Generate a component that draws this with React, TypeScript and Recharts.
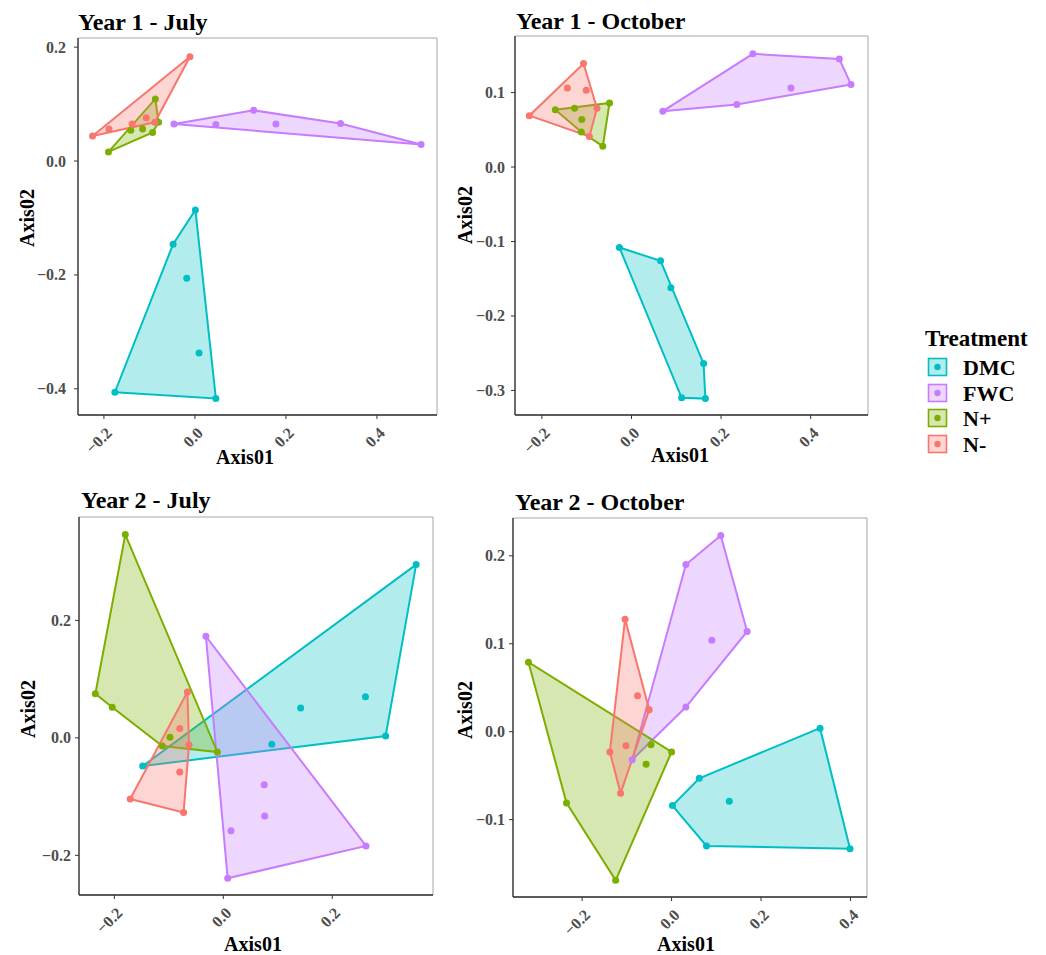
import React from 'react';
import { ScatterChart, Scatter, XAxis, YAxis, ReferenceArea } from 'recharts';

const TREATMENTS = ['DMC', 'FWC', 'N+', 'N-'];
const COLORS = ['#00BFC4', '#C77CFF', '#7CAE00', '#F8766D'];

// Year 1 - July
const y1JulDMC = [[0.001, -0.086], [-0.048, -0.146], [-0.018, -0.206], [0.009, -0.337], [-0.176, -0.406], [0.046, -0.417]];
const y1JulFWC = [[-0.046, 0.065], [0.046, 0.064], [0.129, 0.089], [0.178, 0.065], [0.320, 0.066], [0.497, 0.029]];
const y1JulNp = [[-0.190, 0.016], [-0.141, 0.054], [-0.115, 0.056], [-0.093, 0.050], [-0.087, 0.109], [-0.080, 0.068]];
const y1JulNm = [[-0.225, 0.044], [-0.189, 0.056], [-0.138, 0.065], [-0.107, 0.076], [-0.088, 0.068], [-0.011, 0.183]];

// Year 1 - October
const y1OctDMC = [[-0.027, -0.108], [0.065, -0.126], [0.088, -0.162], [0.161, -0.264], [0.112, -0.310], [0.165, -0.311]];
const y1OctFWC = [[0.070, 0.075], [0.235, 0.084], [0.271, 0.152], [0.356, 0.106], [0.464, 0.145], [0.490, 0.111]];
const y1OctNp = [[-0.170, 0.077], [-0.127, 0.079], [-0.111, 0.064], [-0.112, 0.047], [-0.064, 0.028], [-0.049, 0.086]];
const y1OctNm = [[-0.228, 0.069], [-0.143, 0.106], [-0.107, 0.139], [-0.101, 0.103], [-0.077, 0.079], [-0.094, 0.041]];

// Year 2 - July
const y2JulDMC = [[-0.148, -0.048], [0.089, -0.011], [0.142, 0.051], [0.261, 0.070], [0.298, 0.003], [0.354, 0.295]];
const y2JulFWC = [[-0.032, 0.173], [0.008, -0.239], [0.014, -0.158], [0.076, -0.133], [0.075, -0.080], [0.262, -0.184]];
const y2JulNp = [[-0.235, 0.075], [-0.204, 0.052], [-0.180, 0.346], [-0.112, -0.014], [-0.098, 0.001], [-0.011, -0.024]];
const y2JulNm = [[-0.171, -0.104], [-0.080, 0.016], [-0.080, -0.058], [-0.073, -0.127], [-0.066, 0.078], [-0.063, -0.012]];

// Year 2 - October
const y2OctDMC = [[0.002, -0.084], [0.062, -0.053], [0.078, -0.130], [0.129, -0.079], [0.332, 0.004], [0.399, -0.133]];
const y2OctFWC = [[-0.088, -0.032], [0.032, 0.028], [0.032, 0.190], [0.090, 0.104], [0.110, 0.223], [0.169, 0.114]];
const y2OctNp = [[-0.320, 0.079], [-0.235, -0.081], [-0.125, -0.169], [-0.057, -0.037], [-0.046, -0.015], [0.0, -0.023]];
const y2OctNm = [[-0.138, -0.023], [-0.114, -0.070], [-0.104, 0.128], [-0.102, -0.016], [-0.076, 0.041], [-0.050, 0.025]];

const y1JulXTicks = [-0.2, 0, 0.2, 0.4];
const y1JulYTicks = [-0.4, -0.2, 0, 0.2];
const y1OctXTicks = [-0.2, 0, 0.2, 0.4];
const y1OctYTicks = [-0.3, -0.2, -0.1, 0, 0.1];
const y2JulXTicks = [-0.2, 0, 0.2];
const y2JulYTicks = [-0.2, 0, 0.2];
const y2OctXTicks = [-0.2, 0, 0.2, 0.4];
const y2OctYTicks = [-0.1, 0, 0.1, 0.2];

const TITLES = ['Year 1 - July', 'Year 1 - October', 'Year 2 - July', 'Year 2 - October'];

const SERIF = '"Liberation Serif", "Times New Roman", serif';

type Pt = { x: number; y: number };

const toPts = (arr: number[][]): Pt[] => arr.map(([x, y]) => ({ x, y }));

function hull(points: Pt[]): Pt[] {
  const p = [...points].sort((a, b) => (a.x === b.x ? a.y - b.y : a.x - b.x));
  const cross = (o: Pt, a: Pt, b: Pt) => (a.x - o.x) * (b.y - o.y) - (a.y - o.y) * (b.x - o.x);
  const lower: Pt[] = [];
  for (const q of p) {
    while (lower.length >= 2 && cross(lower[lower.length - 2], lower[lower.length - 1], q) <= 0) lower.pop();
    lower.push(q);
  }
  const upper: Pt[] = [];
  for (let i = p.length - 1; i >= 0; i--) {
    const q = p[i];
    while (upper.length >= 2 && cross(upper[upper.length - 2], upper[upper.length - 1], q) <= 0) upper.pop();
    upper.push(q);
  }
  upper.pop();
  lower.pop();
  return lower.concat(upper);
}

const fmt = (v: number) => v.toFixed(1).replace('-', '\u2212');

const XTick = (props: any) => {
  const { x, y, payload } = props;
  const ax = x + 9;
  const ay = y + 13;
  return (
    <text x={ax} y={ay} transform={`rotate(-45 ${ax} ${ay})`} textAnchor="end" fontFamily={SERIF} fontSize={16} fontWeight={700} fill="#4d4d4d">
      {fmt(payload.value)}
    </text>
  );
};

const YTick = (props: any) => {
  const { x, y, payload } = props;
  return (
    <text x={x} y={y + 5.5} textAnchor="end" fontFamily={SERIF} fontSize={16} fontWeight={700} fill="#4d4d4d">
      {fmt(payload.value)}
    </text>
  );
};

type PanelProps = {
  left: number;
  top: number;
  width: number;
  height: number;
  margin: { top: number; right: number; left: number; bottom: number };
  yAxisWidth: number;
  xAxisHeight: number;
  xDomain: [number, number];
  yDomain: [number, number];
  xTicks: number[];
  yTicks: number[];
  yTickMargin: number;
  groups: number[][][];
};

function Panel(p: PanelProps) {
  const groups = p.groups.map(toPts);
  return (
    <div style={{ position: 'absolute', left: p.left, top: p.top }}>
      <ScatterChart width={p.width} height={p.height} margin={p.margin}>
        <XAxis
          type="number"
          dataKey="x"
          domain={p.xDomain}
          ticks={p.xTicks}
          allowDataOverflow
          height={p.xAxisHeight}
          tickSize={4}
          tickMargin={2}
          stroke="#333333"
          tickLine={{ stroke: '#333333' }}
          axisLine={{ stroke: '#333333', strokeWidth: 1.3 }}
          tick={(t: any) => <XTick {...t} />}
          interval={0}
        />
        <YAxis
          type="number"
          dataKey="y"
          domain={p.yDomain}
          ticks={p.yTicks}
          allowDataOverflow
          width={p.yAxisWidth}
          tickSize={4}
          tickMargin={p.yTickMargin}
          stroke="#333333"
          tickLine={{ stroke: '#333333' }}
          axisLine={{ stroke: '#333333', strokeWidth: 1.3 }}
          tick={(t: any) => <YTick {...t} />}
          interval={0}
        />
        <ReferenceArea
          x1={p.xDomain[0]}
          x2={p.xDomain[1]}
          y1={p.yDomain[0]}
          y2={p.yDomain[1]}
          fill="none"
          fillOpacity={0}
          stroke="#a6a6a6"
          strokeWidth={1}
          ifOverflow="extendDomain"
        />
        {groups.map((g, i) => (
          <Scatter
            key={'hull' + i}
            name={TREATMENTS[i] + ' hull'}
            data={hull(g)}
            fill={COLORS[i]}
            isAnimationActive={false}
            line={{ stroke: COLORS[i], strokeWidth: 2, fill: COLORS[i], fillOpacity: 0.3 }}
            lineJointType="linearClosed"
            shape={() => <g />}
          />
        ))}
        {groups.map((g, i) => (
          <Scatter
            key={'pts' + i}
            name={TREATMENTS[i]}
            data={g}
            fill={COLORS[i]}
            isAnimationActive={false}
            shape={(s: any) => <circle cx={s.cx} cy={s.cy} r={3.5} fill={COLORS[i]} />}
          />
        ))}
      </ScatterChart>
    </div>
  );
}

export default function App() {
  const legendY = [367, 393, 418, 444];
  return (
    <div style={{ position: 'absolute', left: 0, top: 0, width: 1046, height: 955, background: '#ffffff', overflow: 'hidden' }}>
      <Panel
        left={0}
        top={0}
        width={460}
        height={475}
        margin={{ top: 38, right: 23, left: 0, bottom: 0 }}
        yAxisWidth={78}
        xAxisHeight={60}
        xDomain={[-0.257, 0.532]}
        yDomain={[-0.446, 0.216]}
        xTicks={y1JulXTicks}
        yTicks={y1JulYTicks}
        yTickMargin={8}
        groups={[y1JulDMC, y1JulFWC, y1JulNp, y1JulNm]}
      />
      <Panel
        left={440}
        top={0}
        width={440}
        height={475}
        margin={{ top: 36, right: 12, left: 0, bottom: 0 }}
        yAxisWidth={75}
        xAxisHeight={60}
        xDomain={[-0.26, 0.528]}
        yDomain={[-0.333, 0.176]}
        xTicks={y1OctXTicks}
        yTicks={y1OctYTicks}
        yTickMargin={6}
        groups={[y1OctDMC, y1OctFWC, y1OctNp, y1OctNm]}
      />
      <Panel
        left={0}
        top={480}
        width={460}
        height={475}
        margin={{ top: 37, right: 27, left: 0, bottom: 0 }}
        yAxisWidth={79}
        xAxisHeight={60}
        xDomain={[-0.265, 0.385]}
        yDomain={[-0.2675, 0.376]}
        xTicks={y2JulXTicks}
        yTicks={y2JulYTicks}
        yTickMargin={4}
        groups={[y2JulDMC, y2JulFWC, y2JulNp, y2JulNm]}
      />
      <Panel
        left={440}
        top={480}
        width={440}
        height={475}
        margin={{ top: 38, right: 13, left: 0, bottom: 0 }}
        yAxisWidth={73}
        xAxisHeight={58}
        xDomain={[-0.3546, 0.437]}
        yDomain={[-0.188, 0.243]}
        xTicks={y2OctXTicks}
        yTicks={y2OctYTicks}
        yTickMargin={4}
        groups={[y2OctDMC, y2OctFWC, y2OctNp, y2OctNm]}
      />
      <svg width={1046} height={955} style={{ position: 'absolute', left: 0, top: 0, pointerEvents: 'none' }}>
        <g fontFamily={SERIF} fontWeight={700} fill="#000000">
          <text x={78} y={30} fontSize={24}>{TITLES[0]}</text>
          <text x={516} y={29} fontSize={24}>{TITLES[1]}</text>
          <text x={81} y={508} fontSize={24}>{TITLES[2]}</text>
          <text x={515} y={510} fontSize={24}>{TITLES[3]}</text>

          <text x={245} y={464} fontSize={20} textAnchor="middle">Axis01</text>
          <text x={680} y={462} fontSize={20} textAnchor="middle">Axis01</text>
          <text x={253} y={951} fontSize={20} textAnchor="middle">Axis01</text>
          <text x={686} y={951} fontSize={20} textAnchor="middle">Axis01</text>

          <text x={34} y={218} fontSize={20} textAnchor="middle" transform="rotate(-90 34 218)">Axis02</text>
          <text x={472} y={215} fontSize={20} textAnchor="middle" transform="rotate(-90 472 215)">Axis02</text>
          <text x={35} y={709} fontSize={20} textAnchor="middle" transform="rotate(-90 35 709)">Axis02</text>
          <text x={472} y={710} fontSize={20} textAnchor="middle" transform="rotate(-90 472 710)">Axis02</text>

          <text x={925} y={346} fontSize={23}>Treatment</text>
          {TREATMENTS.map((t, i) => (
            <g key={t}>
              <rect x={928.5} y={legendY[i] - 8.5} width={18} height={17} fill={COLORS[i]} fillOpacity={0.3} stroke={COLORS[i]} strokeWidth={1.6} />
              <circle cx={937.5} cy={legendY[i]} r={3.2} fill={COLORS[i]} />
              <text x={963} y={legendY[i] + 7.5} fontSize={22}>{t}</text>
            </g>
          ))}
        </g>
      </svg>
    </div>
  );
}
